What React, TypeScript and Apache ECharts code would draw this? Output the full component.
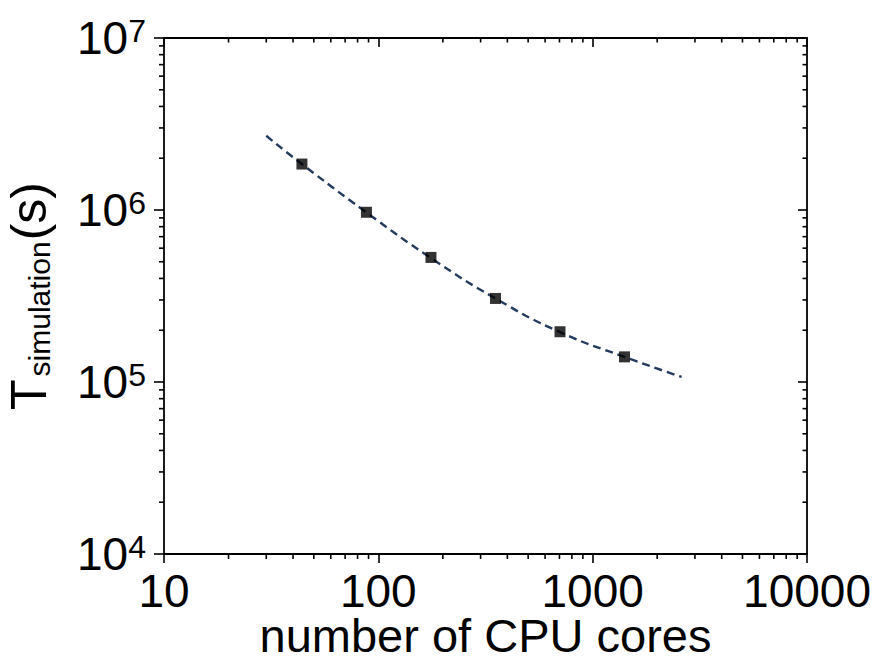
import React, { useEffect, useRef } from "react";
import * as echarts from "echarts";

// Measured points: number of CPU cores vs simulation time (s)
const cores = [44, 88, 176, 352, 704, 1408];
const simTime = [1.85e6, 9.7e5, 5.3e5, 3.06e5, 1.96e5, 1.4e5];

// Dashed fit curve
const fitCores = [30, 44, 88, 176, 352, 704, 1408, 2600];
const fitTime = [2.7e6, 1.85e6, 9.68e5, 5.26e5, 3.06e5, 1.95e5, 1.4e5, 1.07e5];

// Axes
const xMin = 10;
const xMax = 10000;
const yMin = 1e4;
const yMax = 1e7;
const xTickLabels = ["10", "100", "1000", "10000"];
const yTickExponents = ["4", "5", "6", "7"];
const minorMantissas = [2, 3, 4, 5, 6, 7, 8, 9];
const xDecades = [10, 100, 1000];
const yDecades = [1e4, 1e5, 1e6];

const FONT = "'Liberation Sans', Arial, Helvetica, sans-serif";

export default function App() {
  const ref = useRef<HTMLDivElement>(null);

  useEffect(() => {
    if (!ref.current) return;
    const chart = echarts.init(ref.current, null, { renderer: "svg" });

    const xMinor: number[] = [];
    xDecades.forEach((d) => minorMantissas.forEach((m) => xMinor.push(m * d)));
    const yMinor: number[] = [];
    yDecades.forEach((d) => minorMantissas.forEach((m) => yMinor.push(m * d)));

    const tickStyle = { stroke: "#000", lineWidth: 1.6 };

    const option: any = {
      animation: false,
      backgroundColor: "#fff",
      textStyle: { fontFamily: FONT },
      grid: {
        left: 164,
        right: 70,
        top: 38,
        bottom: 104,
        containLabel: false,
        outerBoundsMode: "none",
      },
      xAxis: [
        {
          type: "log",
          logBase: 10,
          min: xMin,
          max: xMax,
          position: "bottom",
          name: "number of CPU cores",
          nameLocation: "middle",
          nameGap: 63,
          nameMoveOverlap: false,
          nameTextStyle: { fontSize: 47, lineHeight: 36, color: "#000", fontFamily: FONT },
          axisLine: { show: true, onZero: false, lineStyle: { color: "#000", width: 1.8 } },
          axisTick: { show: true, inside: false, length: 9, lineStyle: { color: "#000", width: 1.6 } },
          axisLabel: {
            margin: 18,
            fontSize: 46,
            lineHeight: 38,
            color: "#000",
            fontFamily: FONT,
            formatter: (_v: number, i: number) => xTickLabels[i] ?? "",
          },
          splitLine: { show: false },
          minorTick: { show: false },
        },
        {
          type: "log",
          logBase: 10,
          min: xMin,
          max: xMax,
          position: "top",
          axisLine: { show: true, onZero: false, lineStyle: { color: "#000", width: 1.8 } },
          axisTick: { show: true, inside: true, length: 9, lineStyle: { color: "#000", width: 1.6 } },
          axisLabel: { show: false },
          splitLine: { show: false },
        },
      ],
      yAxis: [
        {
          type: "log",
          logBase: 10,
          min: yMin,
          max: yMax,
          position: "left",
          name: "{m|T}{sub|simulation}{m|(s)}",
          nameLocation: "middle",
          nameRotate: 90,
          nameGap: 110,
          nameMoveOverlap: false,
          nameTextStyle: {
            color: "#000",
            fontFamily: FONT,
            rich: {
              m: { fontSize: 50, lineHeight: 50, color: "#000", fontFamily: FONT },
              sub: {
                fontSize: 30,
                lineHeight: 11,
                verticalAlign: "bottom",
                padding: [0, 1, 0, 3],
                color: "#000",
                fontFamily: FONT,
              },
            },
          },
          axisLine: { show: true, onZero: false, lineStyle: { color: "#000", width: 1.8 } },
          axisTick: { show: true, inside: false, length: 10, lineStyle: { color: "#000", width: 1.6 } },
          axisLabel: {
            margin: 18,
            color: "#000",
            fontFamily: FONT,
            formatter: (_v: number, i: number) => "{b|10}{s|" + (yTickExponents[i] ?? "") + "}",
            rich: {
              b: { fontSize: 46, lineHeight: 46, color: "#000", fontFamily: FONT },
              s: { fontSize: 32, lineHeight: 15, verticalAlign: "top", color: "#000", fontFamily: FONT },
            },
          },
          splitLine: { show: false },
        },
        {
          type: "log",
          logBase: 10,
          min: yMin,
          max: yMax,
          position: "right",
          axisLine: { show: true, onZero: false, lineStyle: { color: "#000", width: 1.8 } },
          axisTick: { show: true, inside: true, length: 9, lineStyle: { color: "#000", width: 1.6 } },
          axisLabel: { show: false },
          splitLine: { show: false },
        },
      ],
      series: [
        {
          type: "custom",
          name: "xMinorTicks",
          xAxisIndex: 0,
          yAxisIndex: 0,
          clip: false,
          silent: true,
          data: xMinor.map((v) => [v, yMin]),
          renderItem: (_p: any, api: any) => {
            const v = api.value(0);
            const b = api.coord([v, yMin]);
            const t = api.coord([v, yMax]);
            return {
              type: "group",
              children: [
                { type: "line", shape: { x1: b[0], y1: b[1], x2: b[0], y2: b[1] + 5 }, style: tickStyle },
                { type: "line", shape: { x1: t[0], y1: t[1], x2: t[0], y2: t[1] + 4.5 }, style: tickStyle },
              ],
            };
          },
          z: 1,
        },
        {
          type: "custom",
          name: "yMinorTicks",
          xAxisIndex: 0,
          yAxisIndex: 0,
          clip: false,
          silent: true,
          data: yMinor.map((v) => [xMin, v]),
          renderItem: (_p: any, api: any) => {
            const v = api.value(1);
            const l = api.coord([xMin, v]);
            const r = api.coord([xMax, v]);
            return {
              type: "group",
              children: [
                { type: "line", shape: { x1: l[0] - 5, y1: l[1], x2: l[0], y2: l[1] }, style: tickStyle },
                { type: "line", shape: { x1: r[0] - 4.5, y1: r[1], x2: r[0], y2: r[1] }, style: tickStyle },
              ],
            };
          },
          z: 1,
        },
        {
          type: "line",
          name: "fit",
          xAxisIndex: 0,
          yAxisIndex: 0,
          data: fitCores.map((c, i) => [c, fitTime[i]]),
          smooth: 0.5,
          showSymbol: false,
          symbol: "none",
          lineStyle: { color: "#213a5e", width: 2.4, type: [8, 5] },
          z: 2,
        },
        {
          type: "scatter",
          name: "data",
          xAxisIndex: 0,
          yAxisIndex: 0,
          data: cores.map((c, i) => [c, simTime[i]]),
          symbol: "rect",
          symbolSize: 11,
          itemStyle: { color: "#000", borderWidth: 0 },
          z: 3,
        },
      ],
    };

    chart.setOption(option);
    return () => chart.dispose();
  }, []);

  return (
    <div
      ref={ref}
      style={{ position: "absolute", left: 0, top: 0, width: 877, height: 658, background: "#fff" }}
    />
  );
}
